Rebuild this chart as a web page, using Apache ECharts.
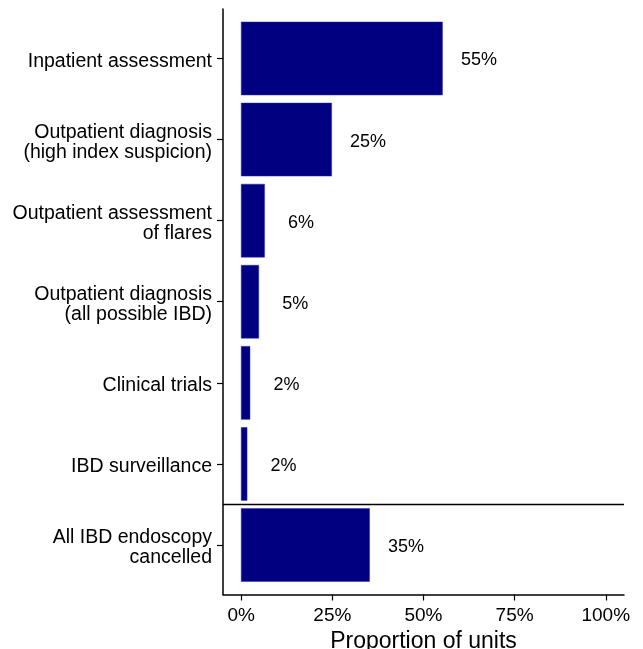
<!DOCTYPE html>
<html>
<head>
<meta charset="utf-8">
<script src="https://cdn.jsdelivr.net/npm/echarts@6/dist/echarts.min.js"></script>
<style>
html,body{margin:0;padding:0;background:#fff;}
#chart{width:643px;height:649px;}
</style>
</head>
<body>
<div id="chart"></div>
<script>
const categories = [
  'Inpatient assessment',
  'Outpatient diagnosis\n(high index suspicion)',
  'Outpatient assessment\nof flares',
  'Outpatient diagnosis\n(all possible IBD)',
  'Clinical trials',
  'IBD surveillance',
  'All IBD endoscopy\ncancelled'
];
const proportions = [55.2, 24.8, 6.4, 4.8, 2.4, 1.6, 35.2];
const xTicks = [0, 25, 50, 75, 100];
const separatorAt = 5.5;

const FONT = '"Liberation Sans", Arial, Helvetica, sans-serif';
const chart = echarts.init(document.getElementById('chart'), null, {renderer: 'canvas'});

const data = proportions.map((v, i) => [v, i]);

chart.setOption({
  animation: false,
  backgroundColor: '#ffffff',
  grid: {left: 223, right: 19, top: 9, bottom: 54.5, outerBoundsMode: 'none', containLabel: false},
  xAxis: {
    type: 'value', min: -5, max: 105,
    name: 'Proportion of units', nameLocation: 'middle', nameGap: 33,
    nameTextStyle: {fontFamily: FONT, fontSize: 23, color: '#000'},
    axisLine: {show: true, onZero: false, lineStyle: {color: '#000', width: 1.5}},
    axisTick: {show: true, length: 6, lineStyle: {color: '#000', width: 1.2}, customValues: xTicks},
    axisLabel: {fontFamily: FONT, fontSize: 19, color: '#000', margin: 12, customValues: xTicks,
      formatter: v => v + '%'},
    splitLine: {show: false}
  },
  yAxis: {
    type: 'value', min: -0.61, max: 6.61, inverse: true,
    axisLine: {show: true, onZero: false, lineStyle: {color: '#000', width: 1.5}},
    axisTick: {show: true, length: 6, lineStyle: {color: '#000', width: 1.2}, customValues: categories.map((c, i) => i)},
    axisLabel: {fontFamily: FONT, fontSize: 19.5, color: '#000', margin: 11, align: 'right',
      customValues: categories.map((c, i) => i),
      formatter: v => (categories[Math.round(v)] || '').split('\n').map(l => '{a|' + l + '}').join('\n'),
      rich: {a: {fontFamily: FONT, fontSize: 19.5, color: '#000', lineHeight: 20, padding: [6, 0, 0, 0]}}},
    splitLine: {show: false}
  },
  series: [{
    type: 'custom',
    data: data,
    encode: {x: 0, y: 1},
    renderItem: function (params, api) {
      const v = api.value(0), idx = api.value(1);
      const start = api.coord([0, idx]);
      const end = api.coord([v, idx]);
      const h = api.size([0, 0.9])[1];
      const lbl = api.coord([v + 10, idx]);
      return {
        type: 'group',
        children: [{
          type: 'rect',
          shape: {x: start[0], y: start[1] - h / 2, width: end[0] - start[0], height: h},
          style: {fill: '#000080', stroke: '#2a2ab0', lineWidth: 0.5}
        }, {
          type: 'text',
          x: lbl[0], y: lbl[1] + 2,
          style: {text: Math.round(v) + '%', fontFamily: FONT, fontSize: 18, fill: '#000',
            align: 'center', verticalAlign: 'middle'}
        }]
      };
    },
    markLine: {
      silent: true, symbol: 'none', label: {show: false},
      lineStyle: {color: '#000', width: 1.3, type: 'solid'},
      data: [{yAxis: separatorAt}]
    }
  }]
});
</script>
</body>
</html>
